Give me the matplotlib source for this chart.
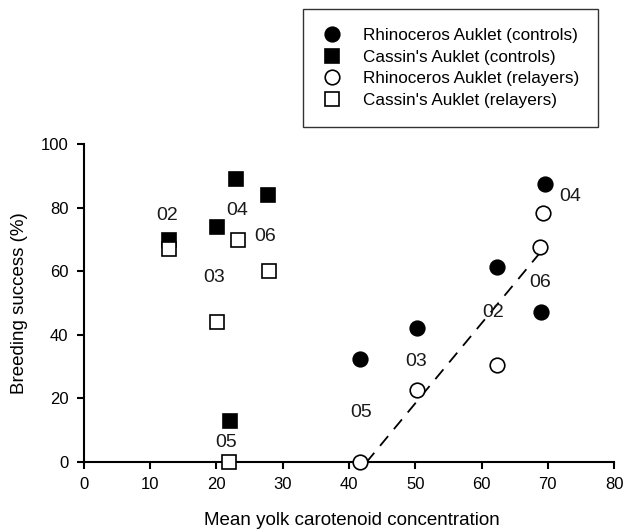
import matplotlib.pyplot as plt
import numpy as np

plt.rcParams['font.family'] = ['Liberation Sans', 'DejaVu Sans']

# Cassin's Auklet
cass_x_ctrl = [12.8, 20.1, 23.0, 27.8, 22.1]
cass_y_ctrl = [70, 74, 89, 84, 13]
cass_x_rel = [12.9, 20.1, 23.2, 28.0, 21.9]
cass_y_rel = [67, 44, 70, 60, 0]
cass_years = ['02', '03', '04', '06', '05']
cass_lab_x = [12.5, 19.7, 23.1, 27.4, 21.5]
cass_lab_y = [77.5, 58, 79, 71, 6]

# Rhinoceros Auklet
rhino_x_ctrl = [41.7, 50.3, 62.3, 69.0, 69.5]
rhino_y_ctrl = [32.3, 42.2, 61.4, 47.3, 87.4]
rhino_x_rel = [41.7, 50.3, 62.3, 68.8, 69.3]
rhino_y_rel = [0, 22.6, 30.5, 67.5, 78.4]
rhino_years = ['05', '03', '02', '06', '04']
rhino_lab_x = [41.9, 50.1, 61.8, 68.8, 73.3]
rhino_lab_y = [15.5, 31.5, 47, 56.4, 83.4]

# regression line extent (relayers)
fit_x = [42.6, 68.8]

fig = plt.figure(figsize=(6.26, 5.32), dpi=100)
ax = fig.add_axes([0.134, 0.1316, 0.847, 0.5974])

ms = 10.5
mew = 1.2
ax.plot(rhino_x_ctrl, rhino_y_ctrl, 'o', color='black', ms=ms, mew=mew,
        label='Rhinoceros Auklet (controls)', clip_on=False, zorder=3)
ax.plot(cass_x_ctrl, cass_y_ctrl, 's', color='black', ms=ms, mew=mew,
        label="Cassin's Auklet (controls)", clip_on=False, zorder=3)

slope, icept = np.polyfit(rhino_x_rel, rhino_y_rel, 1)
fx = np.array(fit_x)
ax.plot(fx, slope * fx + icept, '--', color='black', lw=1.3, dashes=(7, 5), zorder=2)

ax.plot(rhino_x_rel, rhino_y_rel, 'o', mfc='white', mec='black', ms=ms, mew=mew,
        label='Rhinoceros Auklet (relayers)', clip_on=False, zorder=4)
ax.plot(cass_x_rel, cass_y_rel, 's', mfc='white', mec='black', ms=ms, mew=mew,
        label="Cassin's Auklet (relayers)", clip_on=False, zorder=4)

for t, x, y in zip(cass_years + rhino_years, cass_lab_x + rhino_lab_x,
                   cass_lab_y + rhino_lab_y):
    ax.text(x, y, t, ha='center', va='center', fontsize=14, color='#1a1a1a')

ax.set_xlim(0, 80)
ax.set_ylim(0, 100)
ax.set_xticks(range(0, 81, 10))
ax.set_yticks(range(0, 101, 20))
for s in ['top', 'right']:
    ax.spines[s].set_visible(False)
for s in ['left', 'bottom']:
    ax.spines[s].set_linewidth(1.5)
ax.tick_params(direction='out', length=5, width=1.5, labelsize=12, pad=6)
ax.set_xlabel('Mean yolk carotenoid concentration', fontsize=13.5)
ax.xaxis.set_label_coords(0.505, -0.158)
ax.set_ylabel('Breeding success (%)', fontsize=13.5)
ax.yaxis.set_label_coords(-0.105, 0.5)

leg = fig.legend(loc='upper left', bbox_to_anchor=(303 / 626, 1 - 9 / 532),
                 frameon=True, fancybox=False, edgecolor='black', fontsize=12.3,
                 handletextpad=1.21, labelspacing=0.40, borderpad=1.1,
                 handlelength=1.2, borderaxespad=0)
leg.get_frame().set_linewidth(1.0)

fig.savefig('out.png', dpi=100)
